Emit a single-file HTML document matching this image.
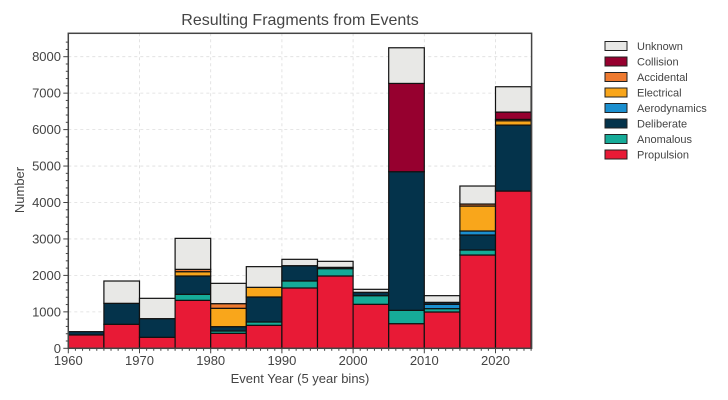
<!DOCTYPE html>
<html><head><meta charset="utf-8"><style>body{margin:0;background:#fff}svg{display:block;font-family:"Liberation Sans",sans-serif}</style></head>
<body>
<svg width="728" height="400" viewBox="0 0 728 400">
<rect width="728" height="400" fill="#fff"/>
<g id="grid" stroke="#ddd" stroke-width="0.8" stroke-dasharray="3,3"></g>
<g id="bars" stroke="#111" stroke-width="1.2"></g>
<rect x="68.3" y="33.3" width="463.3" height="315" fill="none" stroke="#444" stroke-width="1.5"/>
<g id="ticks" stroke="#444" stroke-width="1"></g>
<g id="labels" font-size="13" fill="#444"></g>
<text x="300" y="25" font-size="16" fill="#444" text-anchor="middle">Resulting Fragments from Events</text>
<text x="300" y="383" font-size="13" fill="#444" text-anchor="middle">Event Year (5 year bins)</text>
<text transform="translate(24,190) rotate(-90)" font-size="13" fill="#444" text-anchor="middle">Number</text>
<g id="legend" font-size="11" fill="#444"></g>
<script>
var NS="http://www.w3.org/2000/svg";
function el(p,t,a,txt){var e=document.createElementNS(NS,t);for(var k in a)e.setAttribute(k,a[k]);if(txt!=null)e.textContent=txt;document.getElementById(p).appendChild(e);}
var x0=68.3,bw=35.6,y0=348.3,k=0.03645;
function Y(v){return y0-v*k}
var C={p:"#e81a36",an:"#16ab98",d:"#04334b",ae:"#1b8fcf",e:"#f9a61b",ac:"#ee7a30",c:"#96002f",u:"#e8e8e6"};
for(var i=0;i<=13;i++){var x=x0+i*bw;if(i%2==0&&i>0&&i<13)el("grid","line",{x1:x,x2:x,y1:33.3,y2:348.3});}
for(var v=1000;v<=8000;v+=1000)el("grid","line",{x1:68.3,x2:531.6,y1:Y(v),y2:Y(v)});
var B=[
[["p",366],["d",457]],
[["p",658],["d",1234],["u",1846]],
[["p",302],["d",814],["u",1371]],
[["p",1316],["an",1481],["d",1984],["e",2102],["ac",2166],["u",3016]],
[["p",411],["an",475],["d",594],["e",1097],["ac",1225],["u",1782]],
[["p",631],["an",722],["d",1408],["e",1673],["u",2240]],
[["p",1655],["an",1847],["d",2267],["u",2441]],
[["p",1984],["an",2185],["d",2221],["u",2386]],
[["p",1207],["an",1444],["d",1536],["u",1618]],
[["p",676],["an",1042],["d",4845],["c",7267],["u",8245]],
[["p",996],["an",1088],["ae",1207],["d",1261],["u",1444]],
[["p",2559],["an",2697],["d",3108],["ae",3218],["e",3903],["ac",3958],["u",4452]],
[["p",4314],["d",6124],["e",6243],["ac",6280],["c",6481],["u",7176]]];
B.forEach(function(b,i){var prev=0;b.forEach(function(s){el("bars","rect",{x:x0+i*bw,y:Y(s[1]),width:bw,height:(s[1]-prev)*k,fill:C[s[0]]});prev=s[1];});});
for(var yr=0;yr<=65;yr++){var x=x0+yr*bw/5;var L=yr%10==0?5:2.5;el("ticks","line",{x1:x,x2:x,y1:348.3,y2:348.3+L});}
for(var v=0;v<=8500;v+=200){var L=v%1000==0?5:2.5;el("ticks","line",{x1:68.3,x2:68.3-L,y1:Y(v),y2:Y(v)});}
for(var v=0;v<=8000;v+=1000)el("labels","text",{x:61,y:Y(v)+4.5,"text-anchor":"end"},String(v));
for(var yr=1960;yr<=2020;yr+=10)el("labels","text",{x:x0+(yr-1960)*bw/5,y:365,"text-anchor":"middle"},String(yr));
var Lg=[["Unknown","u"],["Collision","c"],["Accidental","ac"],["Electrical","e"],["Aerodynamics","ae"],["Deliberate","d"],["Anomalous","an"],["Propulsion","p"]];
Lg.forEach(function(l,i){var y=46+i*15.5;el("legend","rect",{x:605,y:y-4.5,width:22,height:9,fill:C[l[1]],stroke:"#222","stroke-width":1});el("legend","text",{x:637,y:y+4},l[0]);});
</script>
</svg>
</body></html>
